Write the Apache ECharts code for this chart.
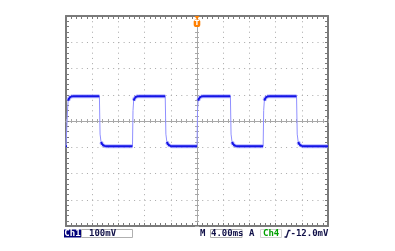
<!DOCTYPE html>
<html><head><meta charset="utf-8">
<script src="https://cdn.jsdelivr.net/npm/echarts@6/dist/echarts.min.js"></script>
<style>html,body{margin:0;padding:0;background:#fff}#c{width:395px;height:251px}</style>
</head><body><div id="c"></div>
<script>
// Time axis in ms (trigger at 0, 4 ms/div), voltage in mV (100 mV/div)
const timeRange = [-20, 20];
const timeDiv = 4;
const voltRange = [-400, 400];
const voltDiv = 100;
// Waveform: [time ms, mV]
const waveform = [
  [-20,-96],
  [-19.85,-96],[-19.77,40],[-19.67,78],[-19.5,88],[-19.25,93],[-18.95,94],
  [-14.9,94],[-14.8,-50],[-14.65,-80],[-14.45,-90],[-14.15,-95],[-13.9,-96],
  [-9.85,-96],[-9.77,40],[-9.67,78],[-9.5,88],[-9.25,93],[-8.95,94],
  [-4.85,94],[-4.75,-50],[-4.6,-80],[-4.4,-90],[-4.1,-95],[-3.85,-96],
  [0,-96],[0.08,40],[0.18,78],[0.35,88],[0.6,93],[0.9,94],
  [5.1,94],[5.2,-50],[5.35,-80],[5.55,-90],[5.85,-95],[6.1,-96],
  [10.1,-96],[10.18,40],[10.28,78],[10.45,88],[10.7,93],[11.0,94],
  [15.2,94],[15.3,-50],[15.45,-80],[15.65,-90],[15.95,-95],[16.2,-96],
  [20,-96]
];
const triggerTime = 0;
const statusTexts = ['Ch1', '100mV', 'M', '4.00ms', 'A', 'Ch4', '-12.0mV'];

// plateau (bright) portions: segments whose both ends are near a settled level
const plateau = [];
for (let i = 0; i < waveform.length - 1; i++) {
  const a = waveform[i], b = waveform[i + 1];
  if (Math.abs(a[1]) >= 78 && Math.abs(b[1]) >= 78) {
    plateau.push(a, b, [b[0], '-']);
  }
}

const chart = echarts.init(document.getElementById('c'), null, {renderer: 'canvas'});
const G = {left: 66, top: 16, width: 262, height: 210};
const borderColor = '#7a7a7a';
const gridColor = '#a8a8a8';

function xAx(extra) {
  return Object.assign({
    type: 'value', min: timeRange[0], max: timeRange[1], interval: timeDiv,
    axisLabel: {show: false}, splitLine: {show: false},
    axisLine: {show: true, onZero: false, lineStyle: {color: borderColor, width: 2}},
    axisTick: {show: true, inside: true, length: 3, lineStyle: {color: borderColor}},
    minorTick: {show: true, splitNumber: 5, length: 3, lineStyle: {color: borderColor}}
  }, extra);
}
function yAx(extra) {
  return Object.assign({
    type: 'value', min: voltRange[0], max: voltRange[1], interval: voltDiv,
    axisLabel: {show: false}, splitLine: {show: false},
    axisLine: {show: true, onZero: false, lineStyle: {color: borderColor, width: 2}},
    axisTick: {show: true, inside: true, length: 3, lineStyle: {color: borderColor}},
    minorTick: {show: true, splitNumber: 5, length: 3, lineStyle: {color: borderColor}}
  }, extra);
}
const centerLine = {show: true, onZero: true, onZeroAxisIndex: 0, lineStyle: {color: gridColor, width: 1}};
const centerTick = {show: true, length: 2, lineStyle: {color: gridColor}};

const option = {
  animation: false,
  grid: Object.assign({show: false}, G),
  xAxis: [
    xAx({position: 'bottom', axisLine: centerLine,
      axisTick: Object.assign({inside: false}, centerTick),
      minorTick: Object.assign({show: true, splitNumber: 5}, centerTick),
      splitLine: {show: true, lineStyle: {color: gridColor, width: 1, type: [1, 4.24]}}}),
    xAx({position: 'bottom', axisLine: centerLine,
      axisTick: Object.assign({inside: true}, centerTick),
      minorTick: Object.assign({show: true, splitNumber: 5}, centerTick)}),
    xAx({position: 'bottom'}),
    xAx({position: 'top'})
  ],
  yAxis: [
    yAx({position: 'left', axisLine: centerLine,
      axisTick: Object.assign({inside: false}, centerTick),
      minorTick: Object.assign({show: true, splitNumber: 5}, centerTick),
      splitLine: {show: true, lineStyle: {color: gridColor, width: 1, type: [1, 4.24]}}}),
    yAx({position: 'left', axisLine: centerLine,
      axisTick: Object.assign({inside: true}, centerTick),
      minorTick: Object.assign({show: true, splitNumber: 5}, centerTick)}),
    yAx({position: 'left'}),
    yAx({position: 'right'})
  ],
  series: [
    {type: 'line', data: waveform, symbol: 'none', z: 3,
      lineStyle: {color: '#8f8fff', width: 1}},
    {type: 'line', data: plateau, symbol: 'none', z: 4, connectNulls: false,
      lineStyle: {color: '#9a9aff', width: 4, opacity: 0.7}},
    {type: 'line', data: plateau, symbol: 'none', z: 5, connectNulls: false,
      lineStyle: {color: '#1414e6', width: 2}}
  ]
};
chart.setOption(option);

const tx = chart.convertToPixel({xAxisIndex: 0}, triggerTime);
const font = 'bold 9px "DejaVu Sans Mono"';
const txtY = 233.8;
chart.setOption({
  graphic: [
    // trigger marker
    {type: 'polygon', shape: {points: [[tx - 2.5, 16], [tx + 2.5, 16], [tx, 19.5]]}, style: {fill: '#ff7f00'}, z: 10},
    {type: 'rect', shape: {x: tx - 3.3, y: 19.5, width: 6.6, height: 7.5, r: 2}, style: {fill: '#ff7f00'}, z: 10},
    {type: 'text', x: tx, y: 23.3, style: {text: 'T', fill: '#ffffff', font: 'bold 7px "DejaVu Sans"', align: 'center', verticalAlign: 'middle'}, z: 11},
    // status bar
    {type: 'rect', shape: {x: 64, y: 229.5, width: 17, height: 8}, style: {fill: '#00007a'}},
    {type: 'text', x: 72.5, y: txtY, style: {text: statusTexts[0], fill: '#ffffff', font: font, align: 'center', verticalAlign: 'middle'}},
    {type: 'rect', shape: {x: 81.5, y: 229.5, width: 51, height: 8}, style: {fill: '#ffffff', stroke: '#b0b0b0', lineWidth: 1}},
    {type: 'text', x: 89, y: txtY, style: {text: statusTexts[1], fill: '#101048', font: font, verticalAlign: 'middle'}},
    {type: 'text', x: 200, y: txtY, style: {text: statusTexts[2], fill: '#101048', font: font, verticalAlign: 'middle'}},
    {type: 'rect', shape: {x: 210.5, y: 229.5, width: 31.5, height: 8}, style: {fill: 'none', stroke: '#b0b0b0', lineWidth: 1}},
    {type: 'text', x: 211, y: txtY, style: {text: statusTexts[3], fill: '#101048', font: font, verticalAlign: 'middle'}},
    {type: 'text', x: 249, y: txtY, style: {text: statusTexts[4], fill: '#101048', font: font, verticalAlign: 'middle'}},
    {type: 'rect', shape: {x: 260.5, y: 229.5, width: 21, height: 8}, style: {fill: 'none', stroke: '#d0d0d0', lineWidth: 1}},
    {type: 'text', x: 263, y: txtY, style: {text: statusTexts[5], fill: '#00a000', font: font, verticalAlign: 'middle'}},
    {type: 'polyline', shape: {points: [[284.5, 237], [286.5, 237], [288.5, 230.5], [290.5, 230.5]]}, style: {stroke: '#101048', lineWidth: 1.3, fill: 'none'}},
    {type: 'text', x: 290.5, y: txtY, style: {text: statusTexts[6], fill: '#101048', font: font, verticalAlign: 'middle'}}
  ]
});
</script>
</body></html>
